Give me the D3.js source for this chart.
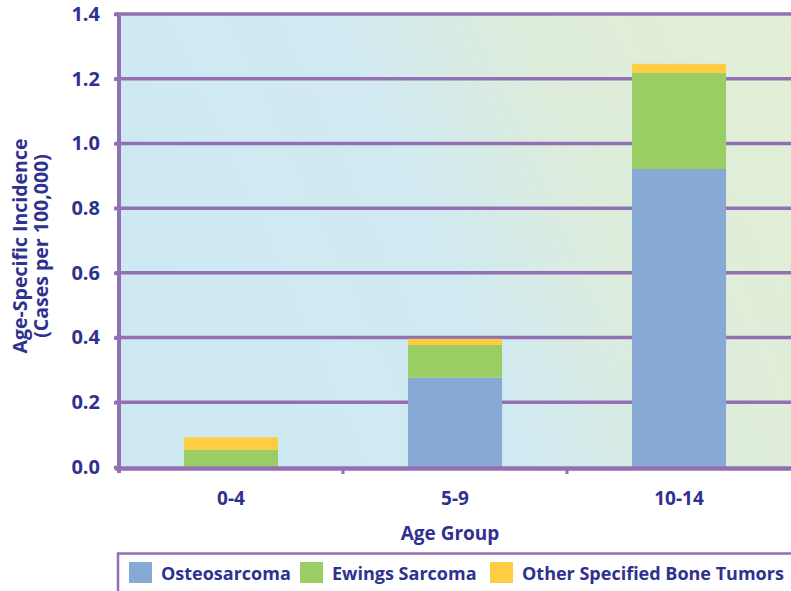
<!DOCTYPE html>
<html><head><meta charset="utf-8">
<script src="https://cdn.jsdelivr.net/npm/d3@7"></script>
<style>body{margin:0;background:#fff}svg{display:block}text{font-family:"Open Sans",sans-serif;font-weight:700;fill:#2f3190}</style>
</head><body><svg id="c" width="791" height="591"></svg>
<script>
const categories = ["0-4", "5-9", "10-14"];
const seriesNames = ["Osteosarcoma", "Ewings Sarcoma", "Other Specified Bone Tumors"];
const osteosarcoma = [0.0, 0.276, 0.921];
const ewings = [0.053, 0.101, 0.297];
const other = [0.039, 0.019, 0.028];
const yTicks = [0, 0.2, 0.4, 0.6, 0.8, 1.0, 1.2, 1.4];
const colors = ["#86aad4", "#9bcd65", "#ffcd44"];

const svg = d3.select("#c");
const L = 119, R = 791, T = 14, B = 467;
const x = d3.scaleBand().domain(categories).range([L, R]).paddingInner(0.58).paddingOuter(0.29);
const y = d3.scaleLinear().domain([0, 1.4]).range([B, T]);
const purple = "#9370b3";

const defs = svg.append("defs");
const g = defs.append("linearGradient").attr("id", "bg").attr("x1", "0").attr("x2", "1").attr("y1", "0.3").attr("y2", "0");
g.append("stop").attr("offset", "0").attr("stop-color", "#cfe9f3");
g.append("stop").attr("offset", "0.38").attr("stop-color", "#d1eaf1");
g.append("stop").attr("offset", "0.62").attr("stop-color", "#ddecdb");
g.append("stop").attr("offset", "1").attr("stop-color", "#e3efd6");
svg.append("rect").attr("x", L).attr("y", T).attr("width", R - L).attr("height", B - T).attr("fill", "url(#bg)");

// gridlines
svg.append("g").selectAll("line").data(yTicks.filter(d => d > 0)).join("line")
  .attr("x1", L - 4).attr("x2", R).attr("y1", d => y(d)).attr("y2", d => y(d))
  .attr("stroke", purple).attr("stroke-width", 3.5);

// stacked bars
const rows = categories.map((c, i) => ({cat: c, s0: osteosarcoma[i], s1: ewings[i], s2: other[i]}));
const stack = d3.stack().keys(["s0", "s1", "s2"])(rows);
svg.append("g").selectAll("g").data(stack).join("g").attr("fill", (d, i) => colors[i])
  .selectAll("rect").data(d => d).join("rect")
  .attr("x", d => x(d.data.cat)).attr("width", x.bandwidth())
  .attr("y", d => y(d[1])).attr("height", d => Math.max(0, y(d[0]) - y(d[1])));

// y axis
const yAxis = d3.axisLeft(y).tickValues(yTicks).tickFormat(d3.format(".1f")).tickSize(5).tickPadding(14);
const ya = svg.append("g").attr("transform", `translate(${L},0)`).call(yAxis);
ya.select(".domain").attr("stroke", purple).attr("stroke-width", 4).attr("d", `M0,${T}V${B + 6}`);
ya.selectAll(".tick line").attr("stroke", purple).attr("stroke-width", 3.5);
ya.selectAll(".tick text").attr("font-size", 20).attr("fill", "#2f3190").attr("font-family", "Open Sans").attr("font-weight", 700);

// x axis
const xAxis = d3.axisBottom(x).tickSize(0).tickPadding(23);
const xa = svg.append("g").attr("transform", `translate(0,${B + 1.5})`).call(xAxis);
xa.select(".domain").attr("stroke", purple).attr("stroke-width", 4.5).attr("d", `M${L - 4},0H${R}`);
xa.selectAll(".tick text").attr("font-size", 19).attr("fill", "#2f3190").attr("font-family", "Open Sans").attr("font-weight", 700);
const bounds = categories.map(c => x(c) - x.step() * x.paddingInner() / 2).slice(1);
svg.append("g").selectAll("line").data(bounds).join("line")
  .attr("x1", d => d).attr("x2", d => d).attr("y1", B).attr("y2", B + 7)
  .attr("stroke", purple).attr("stroke-width", 3);

svg.append("text").attr("x", (L + R) / 2 - 5).attr("y", 540).attr("text-anchor", "middle")
  .attr("font-size", 19).text("Age Group");

// y title
const yt = svg.append("text").attr("transform", "translate(27,246) rotate(-90)").attr("text-anchor", "middle").attr("font-size", 19.5);
yt.append("tspan").attr("x", 0).attr("dy", 0).text("Age-Specific Incidence");
yt.append("tspan").attr("x", 0).attr("dy", 21).text("(Cases per 100,000)");

// legend
svg.append("path").attr("d", `M${R + 2},553.5H${L - 1}V595`).attr("fill", "none").attr("stroke", purple).attr("stroke-width", 2.5);
const legX = [129, 300, 490];
const lg = svg.append("g").selectAll("g").data(seriesNames).join("g").attr("transform", (d, i) => `translate(${legX[i]},562)`);
lg.append("rect").attr("width", 23).attr("height", 21).attr("fill", (d, i) => colors[i]);
lg.append("text").attr("x", 32).attr("y", 18).attr("font-size", 18).text(d => d);
</script></body></html>
